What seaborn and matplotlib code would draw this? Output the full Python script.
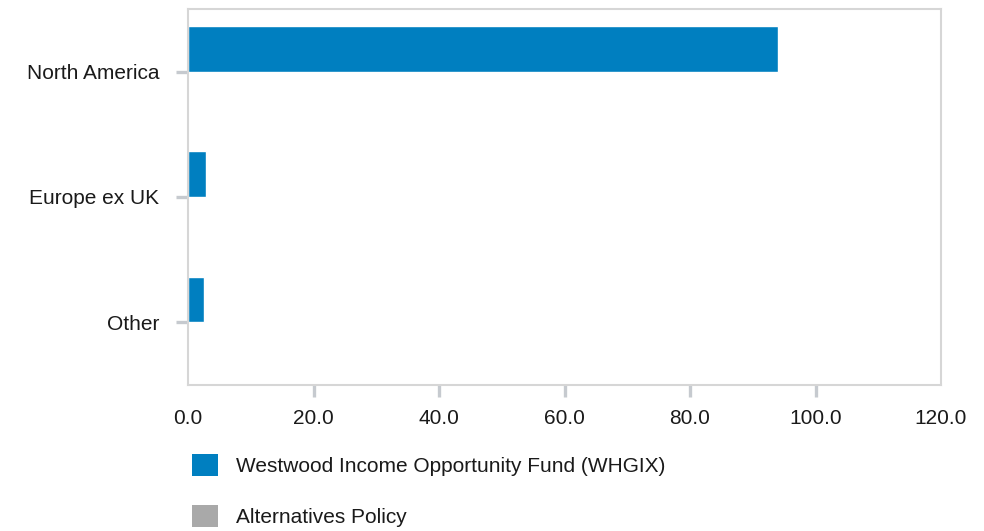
import pandas as pd
import numpy as np
import matplotlib
matplotlib.use("Agg")
import matplotlib.pyplot as plt
from matplotlib.patches import Patch
import seaborn as sns

# ---------------------------------------------------------
# DATA
# ---------------------------------------------------------
regions = ["North America", "Europe ex UK", "Other"]
fund_values = [94.0, 2.8, 2.5]
policy_values = [0.0, 0.0, 0.0]
series_names = ["Westwood Income Opportunity Fund (WHGIX)", "Alternatives Policy"]
series_colors = ["#007fc0", "#a9a9a9"]
x_ticks = [0, 20, 40, 60, 80, 100, 120]

df = pd.DataFrame({
    "Region": regions * 2,
    "Value": fund_values + policy_values,
    "Series": [series_names[0]] * len(regions) + [series_names[1]] * len(regions),
})

# ---------------------------------------------------------
# PLOT
# ---------------------------------------------------------
sns.set_style("white")
plt.rcParams["font.family"] = ["Liberation Sans", "DejaVu Sans"]

fig = plt.figure(figsize=(9.84, 5.31), dpi=100)
ax = fig.add_axes([188 / 984, 1 - 385 / 531, 753 / 984, 376 / 531])

sns.barplot(data=df, y="Region", x="Value", hue="Series", order=regions,
            hue_order=series_names, palette=series_colors, orient="h",
            width=0.73, saturation=1, legend=False, ax=ax)

ax.set_xlim(0, 120)
ax.set_ylim(2.5, -0.5)
ax.set_xticks(x_ticks)
ax.set_xticklabels([f"{t:.1f}" for t in x_ticks])
ax.set_xlabel("")
ax.set_ylabel("")

tick_col = "#c6cacf"
ax.tick_params(axis="x", bottom=True, length=8.6, width=2.4, color=tick_col,
               pad=9, labelsize=15, labelcolor="#1a1a1a")
ax.tick_params(axis="y", left=True, length=8.6, width=2.4, color=tick_col,
               pad=12, labelsize=15, labelcolor="#1a1a1a")
xt = ax.xaxis.get_major_ticks()
xt[0].tick1line.set_visible(False)
xt[-1].tick1line.set_visible(False)

for s in ax.spines.values():
    s.set_visible(True)
    s.set_color("#d6d6d6")
    s.set_linewidth(1.5)

handles = [Patch(facecolor=c, edgecolor="none") for c in series_colors]
fig.legend(handles, series_names, loc="upper left",
           bbox_to_anchor=(192 / 984, 1 - 454 / 531), frameon=False,
           borderpad=0, borderaxespad=0, fontsize=15,
           handlelength=1.25, handleheight=1.25, handletextpad=0.87,
           labelspacing=1.39, labelcolor="#1a1a1a")

fig.savefig("out.png", dpi=100)
